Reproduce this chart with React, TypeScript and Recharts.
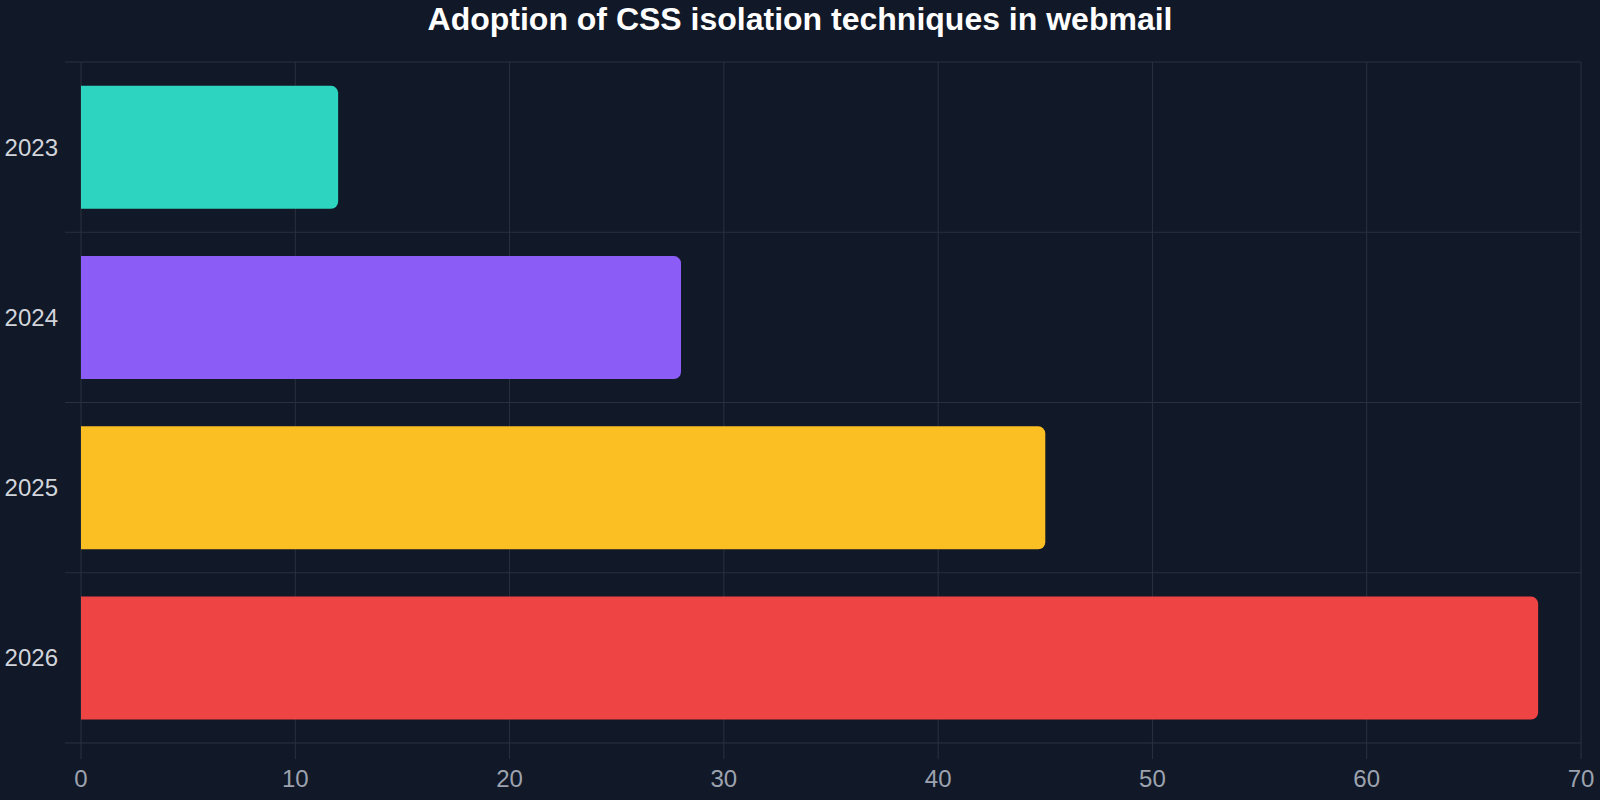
import React from 'react';
import { BarChart, Bar, XAxis, YAxis, CartesianGrid, Cell } from 'recharts';

const years = ['2023', '2024', '2025', '2026'];
const adoption = [12, 28, 45, 68];
const barColors = ['#2dd4bf', '#8b5cf6', '#fbbf24', '#ef4444'];
const xTicks = [0, 10, 20, 30, 40, 50, 60, 70];

const data = years.map((year, i) => ({ year, value: adoption[i] }));

const GRID = '#2a313e';
const FONT = '"Liberation Sans", Arial, sans-serif';

function YearTick(props: any) {
  const { x, y, payload, index } = props;
  const half = payload && payload.offset ? payload.offset : 85;
  return (
    <g>
      <line x1={x + 7} x2={x + 23} y1={y - half} y2={y - half} stroke={GRID} />
      {index === years.length - 1 && (
        <line x1={x + 7} x2={x + 23} y1={y + half} y2={y + half} stroke={GRID} />
      )}
      <text x={x} y={y} dy="0.355em" textAnchor="end" fill="#d1d5db" fontSize={24} fontFamily={FONT}>
        {payload.value}
      </text>
    </g>
  );
}

export default function App() {
  return (
    <div style={{ position: 'absolute', left: 0, top: 0, width: 1600, height: 800, background: '#111827', fontFamily: FONT }}>
      <div
        style={{
          position: 'absolute',
          top: 1,
          left: 0,
          width: 1600,
          textAlign: 'center',
          color: '#ffffff',
          fontSize: 32,
          fontWeight: 'bold',
          lineHeight: '36px',
        }}
      >
        Adoption of CSS isolation techniques in webmail
      </div>
      <BarChart
        width={1600}
        height={800}
        data={data}
        layout="vertical"
        margin={{ top: 62, right: 19, left: 0, bottom: 0 }}
        barCategoryGap="14%"
      >
        <CartesianGrid
          stroke={GRID}
          horizontalCoordinatesGenerator={({ offset }: any) =>
            [0, 1, 2, 3, 4].map((i) => offset.top + (i * offset.height) / years.length)
          }
        />
        <XAxis
          type="number"
          domain={[0, 70]}
          ticks={xTicks}
          axisLine={false}
          tickLine={{ stroke: GRID }}
          tickSize={16}
          tickMargin={11}
          height={57}
          tick={{ fill: '#9ca3af', fontSize: 24, fontFamily: FONT }}
        />
        <YAxis
          type="category"
          dataKey="year"
          width={81}
          axisLine={false}
          tickLine={false}
          tickSize={16}
          tickMargin={7}
          tick={<YearTick />}
        />
        <Bar dataKey="value" radius={[0, 7, 7, 0]} isAnimationActive={false}>
          {data.map((d, i) => (
            <Cell key={d.year} fill={barColors[i]} />
          ))}
        </Bar>
      </BarChart>
    </div>
  );
}
